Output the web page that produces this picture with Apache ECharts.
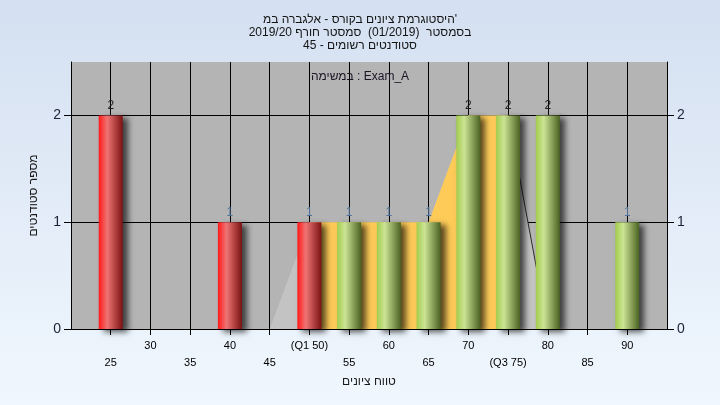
<!DOCTYPE html>
<html>
<head>
<meta charset="utf-8">
<script src="https://cdn.jsdelivr.net/npm/echarts@6/dist/echarts.min.js"></script>
<style>
html,body{margin:0;padding:0;width:720px;height:405px;overflow:hidden;}
#c{width:720px;height:405px;}
</style>
</head>
<body>
<div id="c"></div>
<script>
// ---- data ----
const titleLines = ["היסטוגרמת ציונים בקורס - אלגברה במ'", "בסמסטר  (01/2019)  סמסטר חורף 2019/20", "סטודנטים רשומים - 45"];
const subTitle = "במשימה : Exam_A";
const xAxisName = "טווח ציונים";
const yAxisName = "מספר סטודנטים";
const scores = [25, 40, 50, 55, 60, 65, 70, 75, 80, 90];
const counts = [2, 1, 1, 1, 1, 1, 2, 2, 2, 1];
const tickValues = [25, 30, 35, 40, 45, 50, 55, 60, 65, 70, 75, 80, 85, 90];
const tickLabels = ['25', '30', '35', '40', '45', '(Q1 50)', '55', '60', '65', '70', '(Q3 75)', '80', '85', '90'];
const distX = [45, 50, 55, 60, 65, 70, 75, 80];
const distY = [0, 1, 1, 1, 1, 2, 2, 0];
const q1 = 50, q3 = 75;
const passScore = 55;

// ---- build ----
const FONT = '"Liberation Sans", Arial, "DejaVu Sans", sans-serif';
const redGrad = new echarts.graphic.LinearGradient(0, 0, 1, 0, [
  {offset: 0, color: '#ff1818'}, {offset: 0.35, color: '#f07474'}, {offset: 1, color: '#7a1212'}]);
const greenGrad = new echarts.graphic.LinearGradient(0, 0, 1, 0, [
  {offset: 0, color: '#a2cc4c'}, {offset: 0.33, color: '#cce494'}, {offset: 1, color: '#4a6222'}]);

const barData = scores.map((s, i) => ({
  value: [s, counts[i]],
  itemStyle: {color: s < passScore ? redGrad : greenGrad},
  label: {color: counts[i] >= 2 ? '#1e1e1e' : '#4d6f98'}
}));
const distAll = distX.map((x, i) => [x, distY[i]]);
const distBand = distAll.filter(p => p[0] >= q1 && p[0] <= q3);
const distTail = distAll.filter(p => p[0] >= q3);

const chart = echarts.init(document.getElementById('c'), null, {renderer: 'canvas'});
chart.setOption({
  animation: false,
  backgroundColor: new echarts.graphic.LinearGradient(0, 0, 0, 1, [
    {offset: 0, color: '#d4e0f1'}, {offset: 1, color: '#f0f7fe'}]),
  title: [
    {text: titleLines.join('\n'), left: 'center', top: 8,
     textStyle: {fontFamily: FONT, fontSize: 12, fontWeight: 'normal', color: '#141414', lineHeight: 13}},
    {text: subTitle, left: 'center', top: 66,
     textStyle: {fontFamily: FONT, fontSize: 12, fontWeight: 'normal', color: '#1a1424'}}
  ],
  grid: {left: 71, right: 53, top: 62, bottom: 76, show: true, backgroundColor: '#b4b4b4', borderWidth: 0},
  xAxis: {
    type: 'value', min: 20, max: 95, interval: 5,
    name: xAxisName, nameLocation: 'middle', nameGap: 46,
    nameTextStyle: {fontFamily: FONT, fontSize: 12, color: '#1a1a1a'},
    axisLine: {show: true, lineStyle: {color: '#000', width: 1}},
    axisTick: {show: true, length: 6, lineStyle: {color: '#000'}},
    splitLine: {show: true, showMinLine: false, showMaxLine: false, lineStyle: {color: '#000', width: 1}},
    axisLabel: {
      fontFamily: FONT, fontSize: 11, color: '#000', margin: 8, lineHeight: 17,
      showMinLabel: false, showMaxLabel: false,
      formatter: v => {
        const i = tickValues.indexOf(v);
        if (i < 0) return '';
        return (v % 10 === 0) ? tickLabels[i] : '\n' + tickLabels[i];
      }
    }
  },
  yAxis: [{
    type: 'value', min: 0, max: 2.5, interval: 1,
    name: yAxisName, nameLocation: 'middle', nameGap: 31, nameRotate: 90,
    nameTextStyle: {fontFamily: FONT, fontSize: 12, color: '#1a1a1a'},
    axisLine: {show: true, lineStyle: {color: '#000', width: 1}},
    axisTick: {show: true, length: 7, lineStyle: {color: '#000'}},
    splitLine: {show: true, showMinLine: false, showMaxLine: false, lineStyle: {color: '#000', width: 1}},
    axisLabel: {fontFamily: FONT, fontSize: 14, color: '#1c2238', margin: 10, showMaxLabel: false}
  }, {
    type: 'value', min: 0, max: 2.5, interval: 1, position: 'right',
    axisLine: {show: true, lineStyle: {color: '#000', width: 1}},
    axisTick: {show: true, length: 7, lineStyle: {color: '#000'}},
    splitLine: {show: false},
    axisLabel: {fontFamily: FONT, fontSize: 14, color: '#1c2238', margin: 10, showMaxLabel: false}
  }],
  series: [
    {type: 'line', data: distAll, symbol: 'none', lineStyle: {width: 0}, areaStyle: {color: '#c3c3c3', opacity: 1}, z: 1, silent: true},
    {type: 'line', data: distBand, symbol: 'none', lineStyle: {width: 0}, areaStyle: {color: '#fecb58', opacity: 1}, z: 2, silent: true},
    {type: 'line', data: distTail, symbol: 'none', lineStyle: {width: 1, color: '#2a2a2a'}, z: 2, silent: true},
    {type: 'bar', data: barData, barWidth: 24, z: 5,
     itemStyle: {shadowColor: 'rgba(0,0,0,0.65)', shadowBlur: 6, shadowOffsetX: 5, shadowOffsetY: 3},
     label: {show: true, position: 'top', distance: 4, fontFamily: FONT, fontSize: 12, formatter: p => String(p.value[1])}}
  ]
});
</script>
</body>
</html>
